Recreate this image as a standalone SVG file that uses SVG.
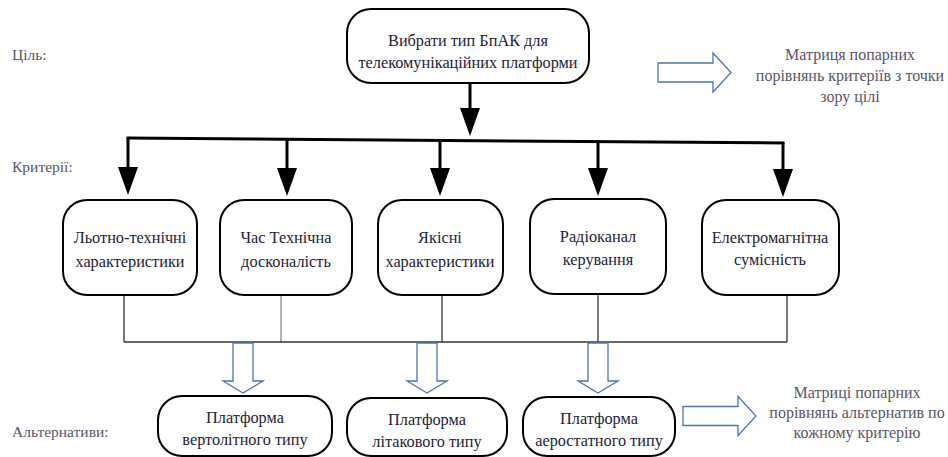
<svg xmlns="http://www.w3.org/2000/svg" width="948" height="457" viewBox="0 0 948 457">
<style>
.node rect{fill:#fff;stroke:#000;stroke-width:2}
.t{font-size:16.3px;fill:#1e2238;text-anchor:middle}
.lbl{font-size:15.5px;fill:#5a5468}
.note{font-size:16px;fill:#5a5468;text-anchor:middle}
.thick{fill:none;stroke:#000;stroke-width:3}
.thin{fill:none;stroke:#333;stroke-width:1.3}
.hollow{fill:#fff;stroke:#4a76b0;stroke-width:1.3}
</style>
<defs>
<marker id="ah" viewBox="0 -10 28 20" refX="0" refY="0" markerWidth="28" markerHeight="20" markerUnits="userSpaceOnUse" orient="auto">
<path d="M0,-10 L28,0 L0,10 Z" fill="#000"/>
</marker>
<path id="downArrow" d="M-10,0 H10 V38 H20 L0,50 L-20,38 H-10 Z"/>
<path id="rightArrow" d="M0,-9.5 H55 V-19.5 L73,0 L55,19.5 V9.5 H0 Z"/>
</defs>

<g font-family="Liberation Serif, DejaVu Serif, serif">
<g id="labels">
<text class="lbl" x="12" y="60">Ціль:</text>
<text class="lbl" x="12" y="172">Критерії:</text>
<text class="lbl" x="12" y="437">Альтернативи:</text>
</g>

<g id="connectors">
<line class="thick" x1="470" y1="83" x2="470" y2="108" marker-end="url(#ah)"/>
<line class="thick" x1="126.5" y1="138" x2="784.5" y2="143"/>
<line class="thick" x1="128" y1="138" x2="128" y2="167" marker-end="url(#ah)"/>
<line class="thick" x1="287" y1="139.2" x2="287" y2="168" marker-end="url(#ah)"/>
<line class="thick" x1="440" y1="140.4" x2="440" y2="168" marker-end="url(#ah)"/>
<line class="thick" x1="598" y1="141.6" x2="598" y2="168" marker-end="url(#ah)"/>
<line class="thick" x1="783" y1="143" x2="783" y2="169" marker-end="url(#ah)"/>
<line class="thin" x1="124" y1="295" x2="124" y2="342"/>
<line class="thin" x1="281" y1="295" x2="281" y2="342" style="stroke:#8a8a8a"/>
<line class="thin" x1="442" y1="295" x2="442" y2="342"/>
<line class="thin" x1="598" y1="294" x2="598" y2="342"/>
<line class="thin" x1="787" y1="295" x2="787" y2="342"/>
<line class="thin" x1="124" y1="342" x2="787" y2="342"/>
<use href="#downArrow" class="hollow" x="243" y="343"/>
<use href="#downArrow" class="hollow" x="427" y="343"/>
<use href="#downArrow" class="hollow" x="598" y="343"/>
<use href="#rightArrow" class="hollow" x="658" y="72.5"/>
<use href="#rightArrow" class="hollow" x="683" y="416"/>
</g>

<g id="goal" class="node">
<rect x="347" y="9" width="242" height="74" rx="24" ry="24"/>
<text class="t" x="468" y="46">Вибрати тип БпАК для</text>
<text class="t" x="468" y="68">телекомунікаційних платформи</text>
</g>

<g id="c1" class="node">
<rect x="63" y="200" width="134" height="95" rx="24" ry="24"/>
<text class="t" x="130" y="243">Льотно-технічні</text>
<text class="t" x="130" y="267">характеристики</text>
</g>
<g id="c2" class="node">
<rect x="220" y="200" width="132" height="95" rx="24" ry="24"/>
<text class="t" x="286" y="243">Час Технічна</text>
<text class="t" x="286" y="267">досконалість</text>
</g>
<g id="c3" class="node">
<rect x="378" y="200" width="125" height="95" rx="24" ry="24"/>
<text class="t" x="440" y="243">Якісні</text>
<text class="t" x="440" y="267">характеристики</text>
</g>
<g id="c4" class="node">
<rect x="530" y="199" width="136" height="95" rx="24" ry="24"/>
<text class="t" x="598" y="242">Радіоканал</text>
<text class="t" x="598" y="265">керування</text>
</g>
<g id="c5" class="node">
<rect x="702" y="200" width="137" height="95" rx="24" ry="24"/>
<text class="t" x="770" y="243">Електромагнітна</text>
<text class="t" x="770" y="265">сумісність</text>
</g>

<g id="a1" class="node">
<rect x="158" y="396" width="174" height="60" rx="24" ry="24"/>
<text class="t" x="245" y="423">Платформа</text>
<text class="t" x="245" y="445">вертолітного типу</text>
</g>
<g id="a2" class="node">
<rect x="347" y="398" width="160" height="58" rx="24" ry="24"/>
<text class="t" x="427" y="425">Платформа</text>
<text class="t" x="427" y="447">літакового типу</text>
</g>
<g id="a3" class="node">
<rect x="523" y="397" width="152" height="59" rx="24" ry="24"/>
<text class="t" x="599" y="424">Платформа</text>
<text class="t" x="599" y="446">аеростатного типу</text>
</g>

<g id="notes">
<text class="note" x="850" y="60">Матриця попарних</text>
<text class="note" x="850" y="81">порівнянь критеріїв з точки</text>
<text class="note" x="850" y="102">зору цілі</text>
<text class="note" x="857" y="398">Матриці попарних</text>
<text class="note" x="857" y="418">порівнянь альтернатив по</text>
<text class="note" x="857" y="438">кожному критерію</text>
</g>
</g>
</svg>
